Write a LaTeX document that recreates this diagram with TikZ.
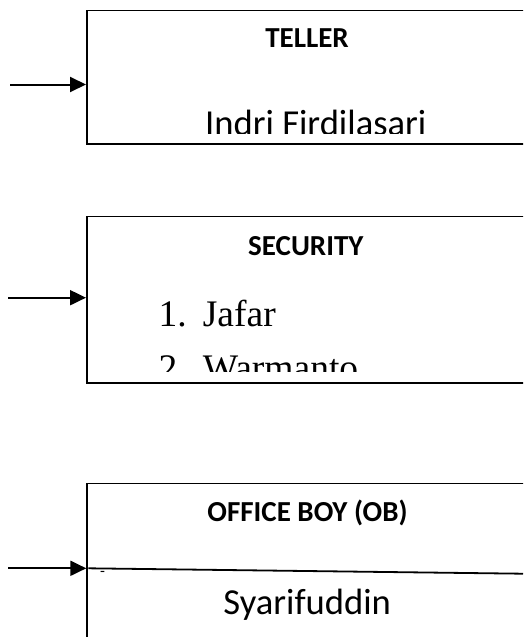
\documentclass[tikz,border=0pt]{standalone}
\usepackage{fontspec}
\setmainfont{Carlito}
\newfontfamily\tnr{Liberation Serif}
\usetikzlibrary{arrows.meta}
\tikzset{
  unitbox/.style={draw=black, line width=1.6pt, rectangle, inner sep=0pt, anchor=north west, minimum width=450pt},
  inarrow/.style={draw=black, line width=2pt, -{Triangle[length=16pt,width=15pt]}},
  heading/.style={font=\bfseries\fontsize{29}{34}\selectfont, anchor=base, inner sep=0pt},
  nametext/.style={font=\fontsize{36.6}{42}\selectfont, anchor=base, inner sep=0pt},
  listtext/.style={font=\tnr\fontsize{37.5}{42}\selectfont, anchor=base west, inner sep=0pt},
  divider/.style={draw=black, line width=1.8pt},
}
\begin{document}
\begin{tikzpicture}[x=1pt,y=-1pt]
\useasboundingbox (0,0) rectangle (523,637);
\clip (0,0) rectangle (523,637);
\fill[white] (0,0) rectangle (523,637);

% TELLER box
\node[unitbox, minimum height=133.5pt] (b1) at (86,9.5) {};
\node[heading] (h1) at (307,47.7) {TELLER};
\begin{scope}
  \clip (86,9.5) rectangle (523,133.3);
  \node[nametext] (n1) at (315.8,135.5) {Indri Firdilasari};
\end{scope}
\coordinate (s1) at (10,84.5);
\draw[inarrow] (s1) -- (s1 -| b1.west);

% SECURITY box
\node[unitbox, minimum height=166.5pt] (b2) at (86,215.7) {};
\node[heading] (h2) at (305.8,255) {SECURITY};
\begin{scope}
  \clip (86,215.7) rectangle (523,371.7);
  \node[listtext] (l1n) at (158.3,326.7) {1.};
  \node[listtext] (l1) at (202.7,326.7) {Jafar};
  \node[listtext] (l2n) at (158.3,380.7) {2.};
  \node[listtext] (l2) at (202.7,380.7) {Warmanto};
\end{scope}
\coordinate (s2) at (8,297.7);
\draw[inarrow] (s2) -- (s2 -| b2.west);

% OFFICE BOY box
\node[unitbox, minimum height=300pt] (b3) at (86.3,482.7) {};
\node[heading] (h3) at (307.5,521) {OFFICE BOY (OB)};
\coordinate (d3a) at (88.3,568.3);
\coordinate (d3b) at (523,573.7);
\draw[divider] (d3a) -- (d3b);
\node[font=\fontsize{16}{18}\selectfont, inner sep=0pt] (dash3) at (102.5,574) {-};
\node[nametext] (n3) at (307.2,614) {Syarifuddin};
\coordinate (s3) at (8,568.3);
\draw[inarrow] (s3) -- (s3 -| b3.west);
\end{tikzpicture}
\end{document}
